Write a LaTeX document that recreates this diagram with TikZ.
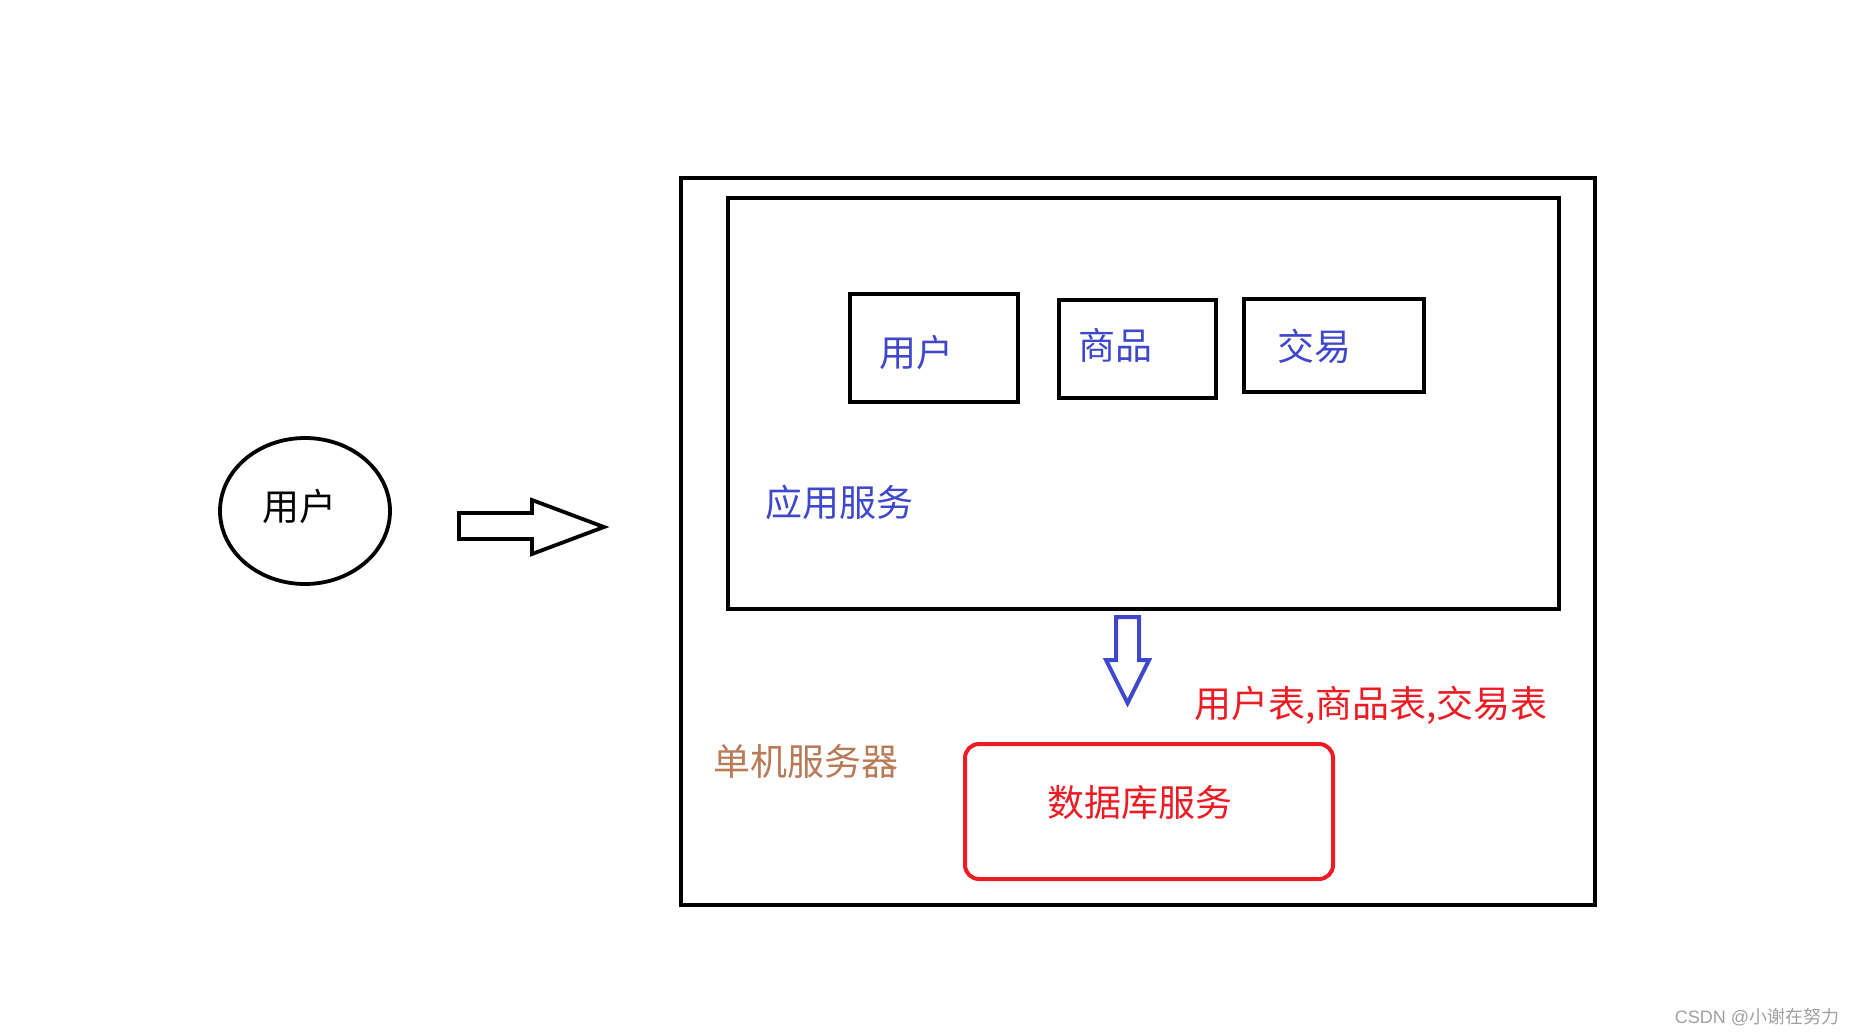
\documentclass[tikz,border=0pt]{standalone}
\usepackage{fontspec}
\newfontfamily\cjk{Noto Sans CJK SC}
\setsansfont{Liberation Sans}
\usetikzlibrary{positioning,shapes.geometric}
\definecolor{paintblue}{RGB}{63,72,204}
\definecolor{paintred}{RGB}{237,28,36}
\definecolor{paintbrown}{RGB}{185,122,87}
\definecolor{markgray}{RGB}{160,160,160}
\tikzset{
	box/.style={draw=black,line width=2pt,inner sep=0pt},
	txt/.style={font=\cjk\fontsize{18.5}{20}\selectfont,inner sep=0pt},
}

\begin{document}
\begin{tikzpicture}[x=0.5pt,y=-0.5pt]
				\useasboundingbox (0,0) rectangle (1858,1034);
				\node[box,minimum width=457pt,minimum height=363.5pt] (server) at (1138,541.5) {};
				\node[box,minimum width=415.5pt,minimum height=205.5pt] (appsvc) at (1143.5,403.5) {};
				\node[box,minimum width=84pt,minimum height=54pt] (userbox) at (934,348) {};
				\node[box,minimum width=78.5pt,minimum height=49pt] (goodsbox) at (1137.5,349) {};
				\node[box,minimum width=90pt,minimum height=46.5pt] (tradebox) at (1334,345.5) {};
				\node[draw=paintred,line width=2pt,rounded corners=7pt,minimum width=184pt,minimum height=67.5pt] (dbsvc) at (1149,811.5) {};
				\node[draw,ellipse,line width=1.9pt,minimum width=85pt,minimum height=73pt,inner sep=0pt] (client) at (305,511) {};
				% texts
				\node[txt] (clienttxt) at (299,506) {用户};
				\node[txt,text=paintblue] (usertxt) at (916,352) {用户};
				\node[txt,text=paintblue] (goodstxt) at (1115,345) {商品};
				\node[txt,text=paintblue] (tradetxt) at (1314,346) {交易};
				\node[txt,text=paintblue] (apptxt) at (839,502) {应用服务};
				\node[txt,text=paintbrown] (servertxt) at (806,761) {单机服务器};
				\node[txt,text=paintred] (dbtxt) at (1140,803) {数据库服务};
				\node[txt,text=paintred] (tabletxt) at (1371,705) {用户表,商品表,交易表};
				\node[font=\fontsize{9}{10}\selectfont\sffamily,text=markgray,inner sep=0pt] (mark) at (1757,1017) {CSDN @{\cjk 小谢在努力}};
				% block arrows
				\coordinate (reqtail) at (459,526);
				\draw[line width=1.9pt,line join=miter] (reqtail) ++(0,-13) -- ++(73,0) -- ++(0,-13) -- (604,527) -- (532,554) -- ++(0,-15) -- ++(-73,0) -- cycle;
				\coordinate (dbtail) at (1127.5,617);
				\draw[paintblue,line width=2pt,line join=miter] (dbtail) ++(-11.5,0) -- ++(23,0) -- ++(0,43) -- ++(10,0) -- (1127.5,703) -- (1106,660) -- ++(10,0) -- cycle;
			\end{tikzpicture}
\end{document}
